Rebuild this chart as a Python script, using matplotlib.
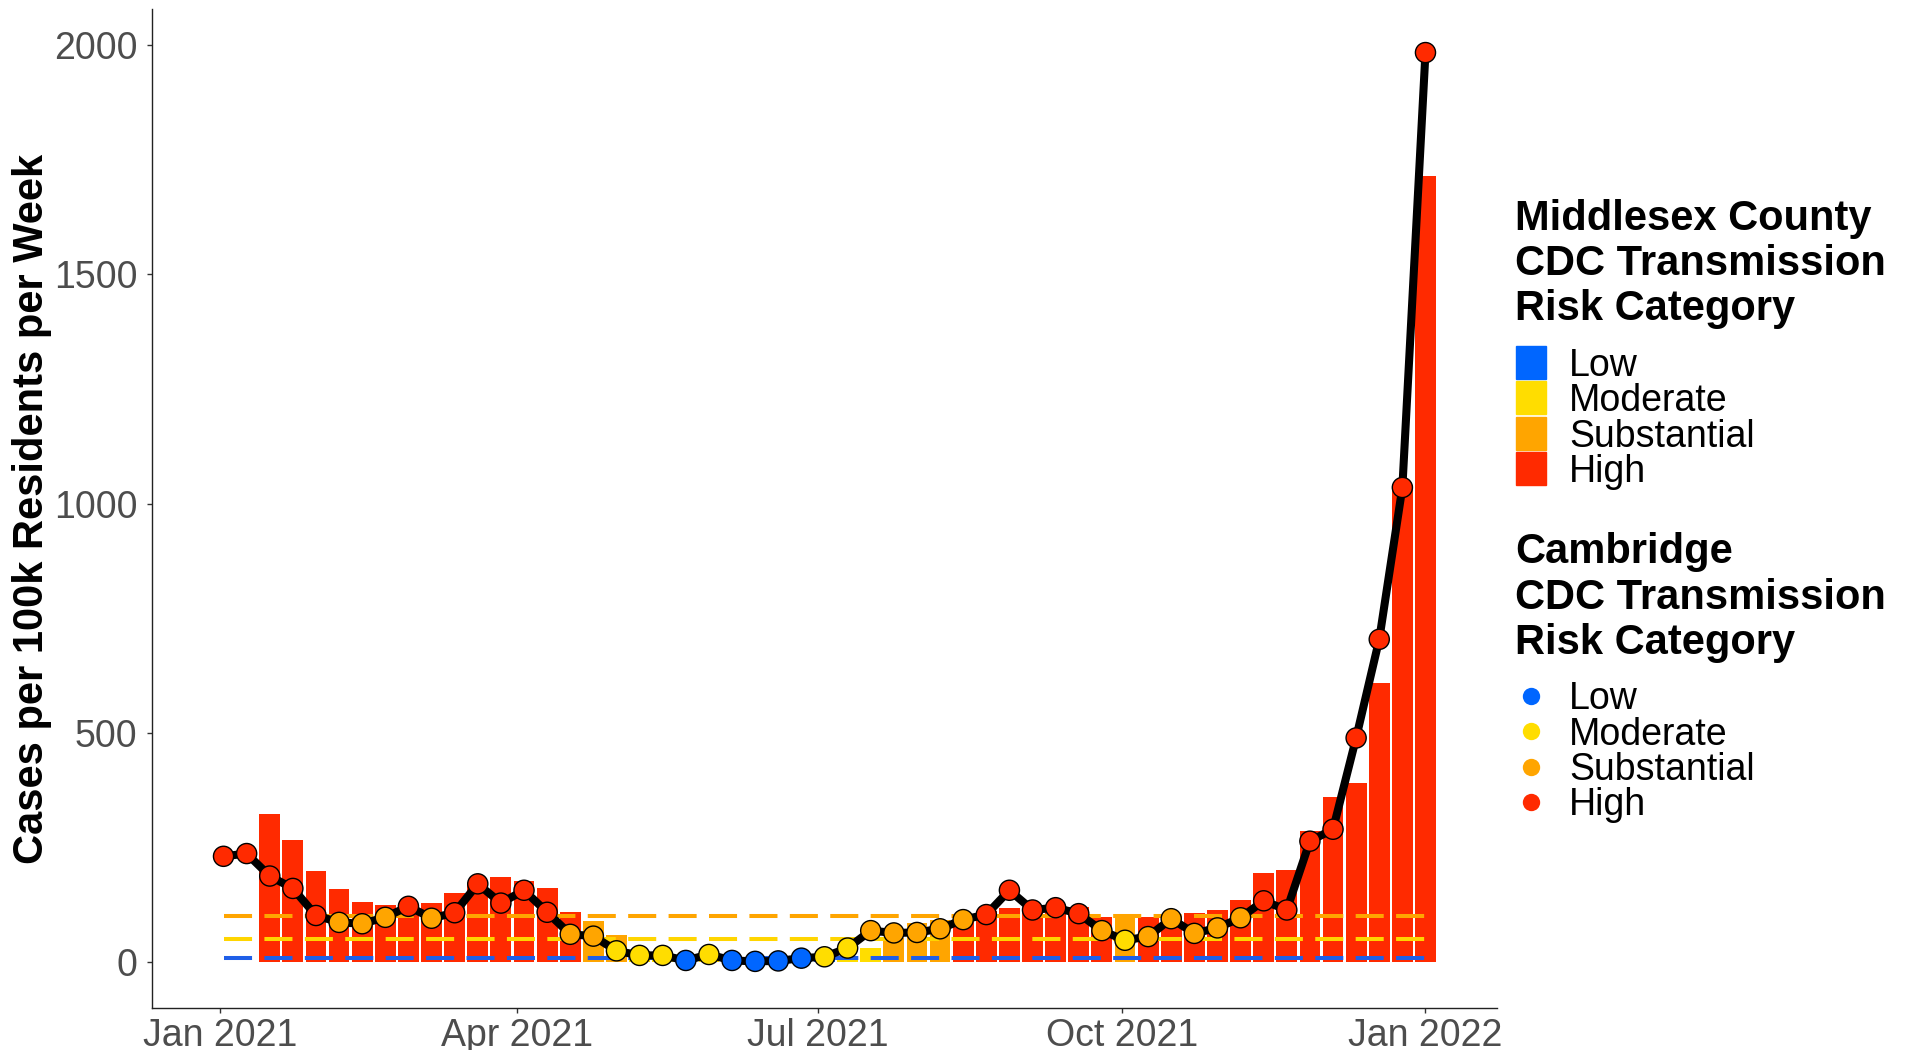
import numpy as np
import pandas as pd
import matplotlib
matplotlib.use("Agg")
import matplotlib.pyplot as plt
import matplotlib.dates as mdates
from matplotlib.patches import Rectangle
from matplotlib.lines import Line2D

plt.rcParams['font.family'] = ['Liberation Sans', 'DejaVu Sans']

# Cambridge weekly rate (points), Saturdays from 2 Jan 2021
cam_dates = pd.date_range('2021-01-02', periods=53, freq='7D')
cam_rate = [231, 237, 188, 161, 102, 87, 84, 98, 122, 96,
            108, 171, 129, 157, 109, 61, 57, 25, 15, 15,
            4, 17, 4, 2, 3, 9, 12, 31, 69, 64,
            65, 73, 93, 104, 157, 114, 119, 106, 69, 48,
            56, 95, 63, 75, 97, 134, 114, 264, 290, 489,
            704, 1035, 1983]
cam_cat = (['High'] * 5 + ['Substantial'] * 3 + ['High', 'Substantial'] + ['High'] * 5
           + ['Substantial'] * 2 + ['Moderate'] * 3 + ['Low', 'Moderate'] + ['Low'] * 4
           + ['Moderate'] * 2 + ['Substantial'] * 5 + ['High'] * 5 + ['Substantial', 'Moderate']
           + ['Substantial'] * 5 + ['High'] * 8)

# Middlesex County weekly rate (bars), from 16 Jan 2021
mid_dates = pd.date_range('2021-01-16', periods=51, freq='7D')
mid_rate = [324, 267, 199, 159, 131, 125, 128, 130, 151, 168,
            185, 177, 161, 109, 91, 60, 25, 18, 12, 12,
            7, 5, 5, 6, 8, 13, 31, 54, 85, 92,
            105, 112, 118, 110, 116, 121, 98, 101, 98, 100,
            107, 113, 135, 195, 201, 286, 360, 391, 609, 1040,
            1714]
mid_cat = (['High'] * 14 + ['Substantial'] * 2 + ['Moderate'] * 4 + ['Low'] * 5
           + ['Moderate'] * 2 + ['Substantial'] * 3 + ['High'] * 7 + ['Substantial']
           + ['High'] * 13)

categories = ['Low', 'Moderate', 'Substantial', 'High']
cat_colors = {'Low': '#0066FF', 'Moderate': '#FFDD00', 'Substantial': '#FFA500', 'High': '#FF2A00'}
thresholds = [10, 50, 100]
thr_colors = ['#1F5FE8', '#FFD500', '#FFA500']

fig = plt.figure(figsize=(19.08, 10.5), dpi=100)
ax = fig.add_axes([152 / 1908, 1 - 1007.7 / 1050, (1497 - 152) / 1908, (1007.7 - 9) / 1050])

# bars
ax.bar(mid_dates, mid_rate, width=6.3, color=[cat_colors[c] for c in mid_cat], zorder=1)

# threshold dashed lines
lw_d = 2.9
for t, c in zip(thresholds, thr_colors):
    ax.plot([cam_dates[0], cam_dates[-1]], [t, t], color=c, lw=lw_d,
            linestyle=(0, (20.2 / lw_d, 8.9 / lw_d)), dash_capstyle='butt', zorder=2)

# Cambridge line + points
ax.plot(cam_dates, cam_rate, color='black', lw=5.8, zorder=3, solid_capstyle='round')
ax.scatter(cam_dates, cam_rate, s=14.5 ** 2, c=[cat_colors[c] for c in cam_cat],
           edgecolors='black', linewidths=1.0, zorder=4)

# axes
base = mdates.date2num(pd.Timestamp('2021-01-01'))
ax.set_xlim(base - 20.66, base + 386.66)
ax.set_ylim(-99, 2078)
ax.set_yticks([0, 500, 1000, 1500, 2000])
ticks = pd.to_datetime(['2021-01-01', '2021-04-01', '2021-07-01', '2021-10-01', '2022-01-01'])
ax.set_xticks(ticks)
ax.set_xticklabels(['Jan 2021', 'Apr 2021', 'Jul 2021', 'Oct 2021', 'Jan 2022'])
for s in ['top', 'right']:
    ax.spines[s].set_visible(False)
for s in ['left', 'bottom']:
    ax.spines[s].set_linewidth(1.0)
    ax.spines[s].set_color('#222222')
ax.tick_params(axis='both', labelsize=27, labelcolor='#4D4D4D', color='#333333',
               length=3.6, width=1.0)
ax.tick_params(axis='y', pad=6.8)
ax.tick_params(axis='x', pad=3.8)

fig.text(31.6 / 1908, 1 - 509 / 1050, 'Cases per 100k Residents per Week',
         rotation=90, ha='center', va='center', fontsize=30, fontweight='bold')

# legends (drawn in figure pixels)
W, H = 1908, 1050
def fx(px):
    return px / W
def fy(py):
    return 1 - py / H

title1 = ['Middlesex County', 'CDC Transmission', 'Risk Category']
for line, yb in zip(title1, [230.3, 275.4, 320.4]):
    fig.text(fx(1515), fy(yb), line, fontsize=30, fontweight='bold', va='baseline', ha='left')
for cat, yc, yb in zip(categories, [362.6, 397.9, 433.2, 468.5], [376, 411.3, 446.6, 481.9]):
    fig.patches.append(Rectangle((fx(1516), fy(yc + 16.5)), 30 / W, 33 / H,
                                 transform=fig.transFigure, color=cat_colors[cat]))
    fig.text(fx(1569), fy(yb), cat, fontsize=27, va='baseline', ha='left')

title2 = ['Cambridge', 'CDC Transmission', 'Risk Category']
for line, yb in zip(title2, [562.5, 608.7, 653.8]):
    fig.text(fx(1515), fy(yb), line, fontsize=30, fontweight='bold', va='baseline', ha='left')
for cat, yc, yb in zip(categories, [696, 731.3, 766.6, 801.9], [709.4, 744.7, 780, 815.3]):
    fig.lines.append(Line2D([fx(1531)], [fy(yc)], transform=fig.transFigure, marker='o',
                            markersize=12.5, color=cat_colors[cat], markeredgewidth=0,
                            linestyle='none'))
    fig.text(fx(1569), fy(yb), cat, fontsize=27, va='baseline', ha='left')

fig.savefig('out.png', dpi=100)
